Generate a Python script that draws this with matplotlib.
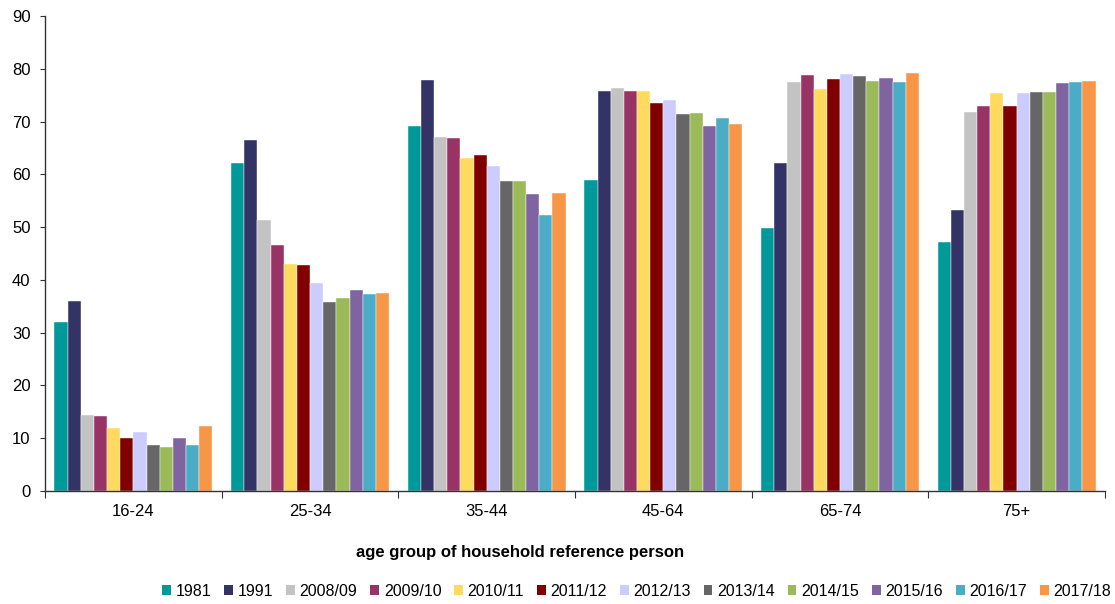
import matplotlib.pyplot as plt
from matplotlib.patches import Patch
import numpy as np

plt.rcParams['font.family'] = ['Liberation Sans', 'DejaVu Sans']

# age groups of the household reference person
age_groups = ['16-24', '25-34', '35-44', '45-64', '65-74', '75+']

# survey years
years = ['1981', '1991', '2008/09', '2009/10', '2010/11', '2011/12',
         '2012/13', '2013/14', '2014/15', '2015/16', '2016/17', '2017/18']

# percentage of households in each age group, one list per year
v1981 = [32.1, 62.2, 69.1, 59.0, 49.9, 47.1]
v1991 = [36.1, 66.5, 77.9, 75.8, 62.2, 53.2]
v2008 = [14.4, 51.4, 67.1, 76.4, 77.5, 71.9]
v2009 = [14.2, 46.7, 66.8, 75.8, 78.8, 73.0]
v2010 = [11.9, 43.0, 63.1, 75.8, 76.2, 75.4]
v2011 = [10.1, 42.8, 63.7, 73.6, 78.1, 73.0]
v2012 = [11.2, 39.4, 61.6, 74.1, 79.0, 75.4]
v2013 = [8.8, 35.8, 58.7, 71.5, 78.6, 75.6]
v2014 = [8.4, 36.6, 58.7, 71.7, 77.7, 75.6]
v2015 = [10.1, 38.1, 56.2, 69.1, 78.2, 77.3]
v2016 = [8.7, 37.3, 52.3, 70.6, 77.5, 77.5]
v2017 = [12.3, 37.5, 56.4, 69.5, 79.2, 77.7]

series = [v1981, v1991, v2008, v2009, v2010, v2011,
          v2012, v2013, v2014, v2015, v2016, v2017]

colors = ['#009999', '#333366', '#C3C3C3', '#993366', '#FFDA5F', '#800000',
          '#CCCCFF', '#666666', '#9BBB59', '#8064A2', '#4BACC6', '#F79646']

fig = plt.figure(figsize=(11.15, 6.04), dpi=100)
ax = fig.add_axes([0.0404, 0.187, 0.9506, 0.7865])

x = np.arange(len(age_groups))
n = len(series)
bar_w = 0.0745
start = -bar_w * n / 2 + bar_w / 2

for i, (vals, col) in enumerate(zip(series, colors)):
    ax.bar(x + start + i * bar_w, vals, width=bar_w, color=col,
           edgecolor='white', linewidth=0.3, label=years[i], zorder=2)

ax.set_xlim(-0.5, len(age_groups) - 0.5)
ax.set_ylim(0, 90)
ax.set_yticks(range(0, 91, 10))
ax.tick_params(axis='y', labelsize=12, length=3.5, color='#333333', pad=7)

# group boundaries get the tick marks, names sit between them
ax.set_xticks(np.arange(-0.5, len(age_groups), 1.0))
ax.set_xticklabels([])
ax.set_xticks(x, minor=True)
ax.set_xticklabels(age_groups, minor=True, fontsize=12)
ax.tick_params(axis='x', which='major', length=5, color='#333333')
ax.tick_params(axis='x', which='minor', length=0, pad=9)

for side in ['top', 'right']:
    ax.spines[side].set_visible(False)
for side in ['left', 'bottom']:
    ax.spines[side].set_color('#333333')
    ax.spines[side].set_linewidth(1.0)

fig.text(0.4665, 0.086, 'age group of household reference person',
         ha='center', va='center', fontsize=12, fontweight='bold')

handles = [Patch(facecolor=c, edgecolor='none') for c in colors]
fig.legend(handles, years, loc='center', bbox_to_anchor=(0.571, 0.0215),
           ncol=12, frameon=False, fontsize=11.5, handlelength=0.55,
           handleheight=0.6, handletextpad=0.3, columnspacing=0.8,
           borderpad=0)

fig.savefig('out.png', dpi=100)
